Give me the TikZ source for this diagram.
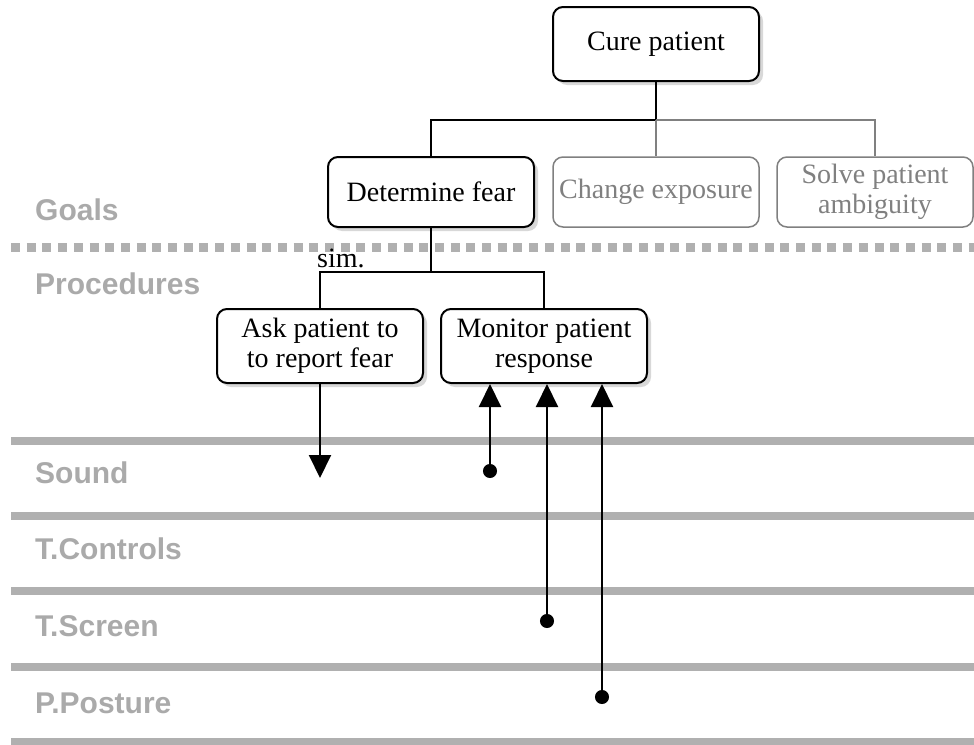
\documentclass[tikz,border=0pt]{standalone}
\usepackage{fontspec}
\setmainfont{Liberation Serif}
\setsansfont{Liberation Sans}
\usetikzlibrary{arrows.meta,shadows}
\definecolor{lanegray}{RGB}{176,176,176}
\definecolor{labelgray}{RGB}{170,170,170}
\definecolor{offgray}{RGB}{128,128,128}

\begin{document}
\begin{tikzpicture}[x=1pt, y=-1pt,
	plain/.style={rectangle, rounded corners=10pt, draw=black, line width=2pt, fill=white, minimum width=206pt, minimum height=74pt, inner sep=3pt, align=center, font=\fontsize{28}{30}\selectfont},
	task/.style={plain, drop shadow={shadow xshift=4pt, shadow yshift=-4pt, fill=black!30}},
	idle/.style={plain, draw=offgray, text=offgray, line width=1.5pt},
	lane/.style={lanegray, line width=8pt},
	lanelabel/.style={anchor=base west, inner sep=0pt, text=labelgray, font=\sffamily\bfseries\fontsize{30}{32}\selectfont},
	link/.style={line width=2pt},
	sense/.style={line width=2pt, {Circle[length=14pt]}-{Triangle[width=22pt,length=23pt]}}]
	\useasboundingbox (0,0) rectangle (974,744);

	\draw[lanegray, line width=9pt, dash pattern=on 9pt off 6.7pt] (11,247) -- (974,247);
	\draw[lane] (11,441) -- (974,441);
	\draw[lane] (11,516) -- (974,516);
	\draw[lane] (11,591) -- (974,591);
	\draw[lane] (11,667) -- (974,667);
	\draw[lane] (11,742) -- (974,742);

	\node[lanelabel] (goals) at (35,220) {Goals};
	\node[lanelabel] (procedures) at (35,294) {Procedures};
	\node[lanelabel] (sound) at (35,483) {Sound};
	\node[lanelabel] (controls) at (35,559) {T.Controls};
	\node[lanelabel] (screen) at (35,636) {T.Screen};
	\node[lanelabel] (posture) at (35,713) {P.Posture};

	\node[task] (cure) at (656,44) {Cure patient};
	\node[task, minimum height=70pt] (fear) at (431,192) {Determine fear};
	\node[idle, minimum height=70pt] (exposure) at (656,192) {Change exposure};
	\node[idle, minimum height=70pt, minimum width=196pt] (ambiguity) at (875,192) {Solve patient\\ambiguity};
	\node[task] (ask) at (320,346) {Ask patient to\\to report fear};
	\node[task] (monitor) at (544,346) {Monitor patient\\response};

	\draw[link] (cure.south) -- ++(0,38) coordinate (fork) -| (fear.north);
	\draw[link, offgray, line width=1.5pt] (fork) -| (ambiguity.north);
	\draw[link, offgray, line width=1.5pt] (fork) -- (exposure.north);

	\draw[link] (fear.south) -- ++(0,44) coordinate (split) -| (ask.north);
	\draw[link] (split) -| (monitor.north);
	\node[anchor=base west, inner sep=0pt, font=\fontsize{28}{30}\selectfont] (sim) at (317,267) {sim.};

	\coordinate (report) at (320,478);
	\draw[link, -{Triangle[width=22pt,length=23pt]}] (ask.south) -- (report);

	\coordinate (soundpt) at (490,478);
	\coordinate (screenpt) at (547,628);
	\coordinate (posturept) at (602,704);
	\draw[sense] (soundpt) -- (soundpt |- monitor.south);
	\draw[sense] (screenpt) -- (screenpt |- monitor.south);
	\draw[sense] (posturept) -- (posturept |- monitor.south);
\end{tikzpicture}
\end{document}
